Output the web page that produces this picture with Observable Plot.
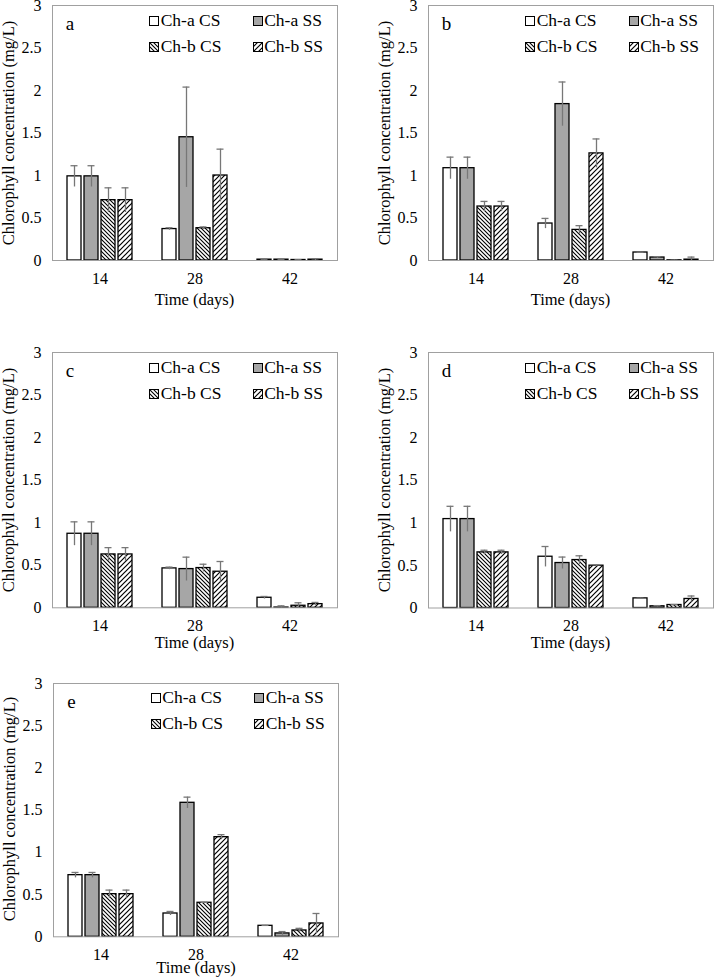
<!DOCTYPE html>
<html>
<head>
<meta charset="utf-8">
<script src="https://cdn.jsdelivr.net/npm/d3@7"></script>
<script src="https://cdn.jsdelivr.net/npm/@observablehq/plot@0.6"></script>
<style>
  html, body { margin: 0; padding: 0; background: #fff; }
  body { width: 714px; height: 977px; overflow: hidden; position: relative;
         font-family: "Liberation Serif", "Times New Roman", serif; color: #000; }
  .abs { position: absolute; white-space: nowrap; line-height: 1; font-family: "Liberation Serif", "Times New Roman", serif; }
  .swatch { position: absolute; width: 10px; height: 10px; overflow: visible; }
</style>
</head>
<body>
<svg width="0" height="0" style="position:absolute">
  <defs>
    <pattern id="hatchCS" patternUnits="userSpaceOnUse" width="4" height="4">
      <rect width="4" height="4" fill="#fff"/>
      <path d="M-1,-1 L5,5 M-1,3 L1,5 M3,-1 L5,1" stroke="#000" stroke-width="1.1"/>
    </pattern>
    <pattern id="hatchSS" patternUnits="userSpaceOnUse" width="5" height="5">
      <rect width="5" height="5" fill="#fff"/>
      <path d="M-1,6 L6,-1 M-1,1 L1,-1 M4,6 L6,4" stroke="#000" stroke-width="1.2"/>
    </pattern>
  </defs>
</svg>
<script>
// ---- data ----
const days = ["14", "28", "42"];
const series = ["Ch-a CS", "Ch-a SS", "Ch-b CS", "Ch-b SS"];
const fills = ["#ffffff", "#a6a6a6", "url(#hatchCS)", "url(#hatchSS)"];
const yTicks = [0, 0.5, 1, 1.5, 2, 2.5, 3];
const panelLetters = ["a", "b", "c", "d", "e"];

// means: rows = series (Ch-a CS, Ch-a SS, Ch-b CS, Ch-b SS), cols = days (14, 28, 42)
const aMean = [[0.99, 0.37, 0.01], [0.99, 1.45, 0.01], [0.71, 0.38, 0.006], [0.71, 1.00, 0.01]];
const aErr  = [[0.125, 0.015, 0.005], [0.125, 0.59, 0.004], [0.145, 0.015, 0.003], [0.145, 0.31, 0.01]];

const bMean = [[1.086, 0.435, 0.094], [1.086, 1.84, 0.035], [0.635, 0.36, 0.002], [0.635, 1.26, 0.01]];
const bErr  = [[0.13, 0.06, 0.003], [0.13, 0.26, 0.01], [0.06, 0.05, 0.002], [0.06, 0.17, 0.03]];

const cMean = [[0.87, 0.463, 0.118], [0.87, 0.455, 0.003], [0.627, 0.467, 0.024], [0.627, 0.424, 0.043]];
const cErr  = [[0.14, 0.015, 0.015], [0.14, 0.14, 0.02], [0.08, 0.045, 0.035], [0.08, 0.12, 0.02]];

const dMean = [[1.044, 0.602, 0.113], [1.044, 0.528, 0.02], [0.653, 0.563, 0.035], [0.653, 0.497, 0.106]];
const dErr  = [[0.15, 0.12, 0.003], [0.15, 0.07, 0.008], [0.025, 0.05, 0.005], [0.025, 0.01, 0.035]];

const eMean = [[0.73, 0.276, 0.13], [0.73, 1.587, 0.04], [0.505, 0.403, 0.075], [0.505, 1.18, 0.158]];
const eErr  = [[0.032, 0.024, 0.005], [0.032, 0.067, 0.022], [0.048, 0.005, 0.025], [0.048, 0.03, 0.118]];

const yLabel = "Chlorophyll concentration (mg/L)";
const xLabel = "Time (days)";

// ---- layout (page px): plot-area left, top, height, x-label baseline offset ----
const layout = [
  {L: 51.7,  T: 5,     H: 255,   xl: 46},
  {L: 427.7, T: 5,     H: 255,   xl: 46},
  {L: 51.7,  T: 352.3, H: 255.3, xl: 41.5},
  {L: 427.7, T: 352,   H: 255.5, xl: 41.5},
  {L: 53.3,  T: 682.7, H: 253.3, xl: 37.5}
];
const means = [aMean, bMean, cMean, dMean, eMean];
const errs = [aErr, bErr, cErr, dErr, eErr];

const FONT = '"Liberation Serif", "Times New Roman", serif';
const W = 285.5, mL = 52, mT = 15, mB = 45, mR = 1;

function addText(txt, style) {
  const el = document.createElement("div");
  el.className = "abs";
  el.textContent = txt;
  Object.assign(el.style, style);
  document.body.appendChild(el);
  return el;
}

function swatch(i, left, top) {
  const NS = "http://www.w3.org/2000/svg";
  const s = document.createElementNS(NS, "svg");
  s.setAttribute("width", 10); s.setAttribute("height", 10);
  s.setAttribute("class", "swatch");
  s.style.left = left + "px"; s.style.top = top + "px";
  const r = document.createElementNS(NS, "rect");
  r.setAttribute("x", 0.5); r.setAttribute("y", 0.5);
  r.setAttribute("width", 9); r.setAttribute("height", 9);
  r.setAttribute("fill", fills[i]); r.setAttribute("stroke", "#000"); r.setAttribute("stroke-width", 1);
  s.appendChild(r);
  document.body.appendChild(s);
}

layout.forEach((p, k) => {
  const data = [];
  series.forEach((s, i) => days.forEach((d, j) => {
    data.push({series: s, day: d, v: means[k][i][j], e: errs[k][i][j], fill: fills[i]});
  }));

  const chart = Plot.plot({
    width: mL + W + mR,
    height: mT + p.H + mB,
    marginLeft: mL, marginTop: mT, marginBottom: mB, marginRight: mR,
    style: {fontFamily: FONT, fontSize: "16px", color: "#000", background: "transparent", overflow: "visible"},
    fx: {domain: days, padding: 0, label: null, tickSize: 0, tickPadding: 12, fontSize: 16},
    x: {domain: series, paddingInner: 0.186, paddingOuter: 0.863, axis: null},
    y: {domain: [0, 3], ticks: yTicks, tickFormat: d => String(d), tickSize: 0, tickPadding: 11, label: null},
    color: {type: "identity"},
    marks: [
      Plot.barY(data, {fx: "day", x: "series", y: "v", fill: "fill", stroke: "#000", strokeWidth: 1.3}),
      Plot.ruleX(data, {fx: "day", x: "series", y1: d => Math.max(0, d.v - d.e), y2: d => d.v + d.e, stroke: "#777", strokeWidth: 1.3}),
      Plot.tickY(data, {fx: "day", x: "series", y: d => d.v + d.e, stroke: "#777", strokeWidth: 1.3, insetLeft: 3.5, insetRight: 3.5}),
      Plot.frame({facet: "super", stroke: "#a0a0a0", strokeWidth: 1})
    ]
  });
  chart.style.position = "absolute";
  chart.style.left = (p.L - mL) + "px";
  chart.style.top = (p.T - mT) + "px";
  document.body.appendChild(chart);

  // panel letter
  const F1 = 19;
  addText(panelLetters[k], {left: (p.L + 14) + "px", top: (p.T + 25 - 0.8375 * F1) + "px", fontSize: F1 + "px"});

  // legend
  const F2 = 17.5;
  const cols = [97.5, 201];
  const rows = [15.5, 41.5];
  series.forEach((s, i) => {
    const cx = p.L + cols[i % 2];
    const cy = p.T + rows[Math.floor(i / 2)];
    swatch(i, cx, cy - 5);
    const base = cy + 0.331 * F2;
    addText(s, {left: (cx + 11.5) + "px", top: (base - 0.8375 * F2) + "px", fontSize: F2 + "px"});
  });

  // y label
  const F3 = 16.5;
  const yl = addText(yLabel, {left: (p.L - 43) + "px", top: (p.T + p.H / 2) + "px", fontSize: F3 + "px"});
  yl.style.transform = "translate(-50%, -50%) rotate(-90deg)";

  // x label
  const xlEl = addText(xLabel, {left: (p.L + W / 2) + "px", top: (p.T + p.H + p.xl - 0.8375 * F3) + "px", fontSize: F3 + "px"});
  xlEl.style.transform = "translateX(-50%)";
});
</script>
</body>
</html>
